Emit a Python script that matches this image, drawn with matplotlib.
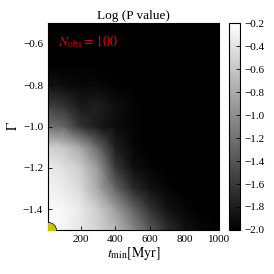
import numpy as np
import matplotlib
matplotlib.use("Agg")
import matplotlib.pyplot as plt

plt.rcParams['font.family'] = 'serif'
plt.rcParams['font.serif'] = ['Liberation Serif', 'DejaVu Serif']
plt.rcParams['mathtext.fontset'] = 'stix'

t_min = [10, 100, 200, 300, 400, 500, 600, 700, 800, 900, 1000]
gamma = [-1.5, -1.4, -1.3, -1.2, -1.1, -1.0, -0.9, -0.8, -0.7, -0.6, -0.5]
# log P values, rows = gamma (bottom to top), columns = t_min
logp = [
    [-0.20, -0.27, -0.38, -0.52, -0.70, -1.01, -1.37, -1.68, -1.86, -1.95, -2.00],
    [-0.24, -0.27, -0.36, -0.56, -0.88, -1.28, -1.64, -1.86, -1.95, -2.00, -2.00],
    [-0.29, -0.34, -0.47, -0.83, -1.28, -1.68, -1.87, -1.96, -2.00, -2.00, -2.00],
    [-0.34, -0.42, -0.56, -0.92, -1.60, -1.89, -1.96, -2.00, -2.00, -2.00, -2.00],
    [-0.52, -0.60, -0.83, -1.28, -1.78, -1.95, -2.00, -2.00, -2.00, -2.00, -2.00],
    [-1.19, -1.28, -1.64, -1.82, -1.91, -1.96, -2.00, -2.00, -2.00, -2.00, -2.00],
    [-1.55, -1.64, -1.82, -1.78, -1.89, -1.96, -2.00, -2.00, -2.00, -2.00, -2.00],
    [-1.86, -1.91, -1.95, -1.95, -1.98, -2.00, -2.00, -2.00, -2.00, -2.00, -2.00],
    [-2.00, -2.00, -2.00, -2.00, -2.00, -2.00, -2.00, -2.00, -2.00, -2.00, -2.00],
    [-2.00, -2.00, -2.00, -2.00, -2.00, -2.00, -2.00, -2.00, -2.00, -2.00, -2.00],
    [-2.00, -2.00, -2.00, -2.00, -2.00, -2.00, -2.00, -2.00, -2.00, -2.00, -2.00],
]
cbar_ticks = [-2.0, -1.8, -1.6, -1.4, -1.2, -1.0, -0.8, -0.6, -0.4, -0.2]
x_ticks = [200, 400, 600, 800, 1000]
y_ticks = [-1.4, -1.2, -1.0, -0.8, -0.6]

fig = plt.figure(figsize=(2.74, 2.74), dpi=100)
ax = fig.add_axes([0.175, 0.1606, 0.625, 0.7554])
cax = fig.add_axes([0.837, 0.1606, 0.039, 0.7554])

T, G = np.meshgrid(t_min, gamma)
Z = np.array(logp)
pm = ax.pcolormesh(T, G, Z, shading='gouraud', cmap='gray', vmin=-2.0, vmax=-0.2,
                   rasterized=True)
ax.plot([t_min[0]], [gamma[0]], 'o', color='#c8c400', markeredgecolor='k',
        markeredgewidth=0.5, markersize=11.5, clip_on=True, zorder=5)
ax.set_xlim(t_min[0], t_min[-1])
ax.set_ylim(gamma[0], gamma[-1])
ax.set_xticks(x_ticks)
ax.set_yticks(y_ticks)
ax.tick_params(direction='in', labelsize=8, length=3, width=0.6, top=False, right=False)
ax.set_xlabel(r'$t_{\rm min}[{\rm Myr}]$', fontsize=10, labelpad=1)
ax.set_ylabel(r'$\Gamma$', fontsize=10, labelpad=2)
ax.set_title('Log (P value)', fontsize=9.5, pad=3)
ax.text(0.06, 0.89, r'$N_{\rm obs}=100$', color='#d40000', fontsize=10,
        transform=ax.transAxes, va='baseline')
for s in ax.spines.values():
    s.set_linewidth(0.8)

cb = fig.colorbar(pm, cax=cax, ticks=cbar_ticks)
cb.ax.tick_params(direction='in', labelsize=8, length=3, width=0.6)
cb.outline.set_linewidth(0.8)

fig.savefig('out.png', dpi=100)
